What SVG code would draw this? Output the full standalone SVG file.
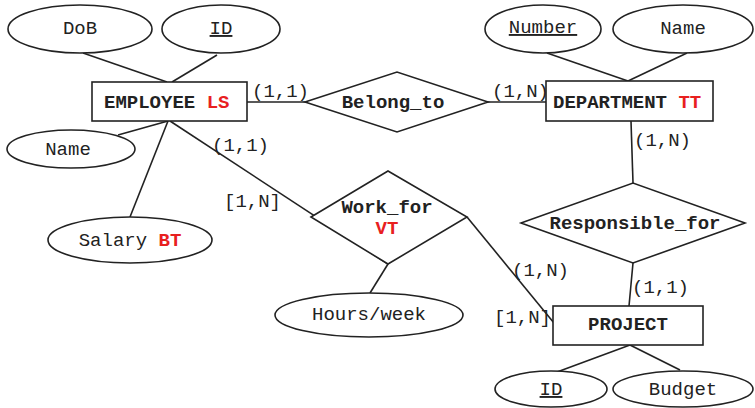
<svg xmlns="http://www.w3.org/2000/svg" width="755" height="408" viewBox="0 0 755 408">
  <style>
    .shape { fill: #ffffff; stroke: #222222; stroke-width: 1.6; }
    .link { stroke: #222222; stroke-width: 1.6; fill: none; }
    text { font-family: "Liberation Mono", "Courier New", monospace; font-size: 19px; fill: #222222; }
    .mid { text-anchor: middle; }
    .b { font-weight: bold; }
    .red { fill: #e8201f; font-weight: bold; }
    .key { text-decoration: underline; }
  </style>
  <rect width="755" height="408" fill="#ffffff"/>

  <!-- connectors -->
  <g id="connectors">
    <line class="link" x1="83" y1="53" x2="167" y2="82"/>
    <line class="link" x1="217" y1="55" x2="172" y2="82"/>
    <line class="link" x1="118" y1="135" x2="168" y2="121"/>
    <line class="link" x1="168" y1="121" x2="130" y2="217"/>
    <line class="link" x1="170" y1="121" x2="388" y2="264"/>
    <line class="link" x1="247" y1="102" x2="305" y2="102"/>
    <line class="link" x1="488" y1="102" x2="546" y2="102"/>
    <line class="link" x1="547" y1="53" x2="628" y2="81"/>
    <line class="link" x1="687" y1="53" x2="628" y2="81"/>
    <line class="link" x1="631" y1="121" x2="633" y2="183"/>
    <line class="link" x1="633" y1="263" x2="629" y2="306"/>
    <line class="link" x1="467" y1="217" x2="554" y2="323"/>
    <line class="link" x1="370" y1="293" x2="388" y2="264"/>
    <line class="link" x1="630" y1="345" x2="557" y2="372"/>
    <line class="link" x1="630" y1="345" x2="680" y2="370"/>
  </g>

  <!-- entities -->
  <g id="employee">
    <rect class="shape" x="92" y="82" width="155" height="39"/>
    <text class="b" x="104" y="108">EMPLOYEE <tspan class="red">LS</tspan></text>
  </g>
  <g id="department">
    <rect class="shape" x="546" y="81" width="167" height="40"/>
    <text class="b" x="553" y="108">DEPARTMENT <tspan class="red">TT</tspan></text>
  </g>
  <g id="project">
    <rect class="shape" x="553" y="306" width="150" height="39"/>
    <text class="b mid" x="628" y="330">PROJECT</text>
  </g>

  <!-- relationships -->
  <g id="belong-to">
    <polygon class="shape" points="305,102 397,72 488,102 397,132"/>
    <text class="b mid" x="393" y="108">Belong_to</text>
  </g>
  <g id="work-for">
    <polygon class="shape" points="311,217 388,171 467,217 388,264"/>
    <text class="b mid" x="387" y="213">Work_for</text>
    <text class="red mid" x="387" y="234">VT</text>
  </g>
  <g id="responsible-for">
    <polygon class="shape" points="521,223 633,183 745,223 633,263"/>
    <text class="b mid" x="635" y="229">Responsible_for</text>
  </g>

  <!-- attributes -->
  <g id="attr-dob">
    <ellipse class="shape" cx="80" cy="29" rx="72" ry="24"/>
    <text class="mid" x="80" y="34">DoB</text>
  </g>
  <g id="attr-employee-id">
    <ellipse class="shape" cx="221" cy="29" rx="59" ry="24"/>
    <text class="mid key" x="221" y="34">ID</text>
  </g>
  <g id="attr-employee-name">
    <ellipse class="shape" cx="71" cy="149" rx="64" ry="19"/>
    <text class="mid" x="68" y="155">Name</text>
  </g>
  <g id="attr-salary">
    <ellipse class="shape" cx="130" cy="240" rx="82" ry="23"/>
    <text class="mid" x="130" y="246">Salary <tspan class="red">BT</tspan></text>
  </g>
  <g id="attr-hours">
    <ellipse class="shape" cx="369" cy="315" rx="94" ry="22"/>
    <text class="mid" x="369" y="320">Hours/week</text>
  </g>
  <g id="attr-number">
    <ellipse class="shape" cx="543" cy="29" rx="58" ry="24"/>
    <text class="mid key" x="543" y="33">Number</text>
  </g>
  <g id="attr-department-name">
    <ellipse class="shape" cx="683" cy="29" rx="70" ry="24"/>
    <text class="mid" x="683" y="34">Name</text>
  </g>
  <g id="attr-project-id">
    <ellipse class="shape" cx="551" cy="389" rx="56" ry="18"/>
    <text class="mid key" x="551" y="395">ID</text>
  </g>
  <g id="attr-budget">
    <ellipse class="shape" cx="683" cy="389" rx="70" ry="18"/>
    <text class="mid" x="683" y="395">Budget</text>
  </g>

  <!-- cardinalities -->
  <g id="cardinalities">
    <text x="252" y="97">(1,1)</text>
    <text x="492" y="97">(1,N)</text>
    <text x="634" y="146">(1,N)</text>
    <text x="212" y="151">(1,1)</text>
    <text x="224" y="207">[1,N]</text>
    <text x="512" y="276">(1,N)</text>
    <text x="494" y="323">[1,N]</text>
    <text x="632" y="293">(1,1)</text>
  </g>
</svg>
